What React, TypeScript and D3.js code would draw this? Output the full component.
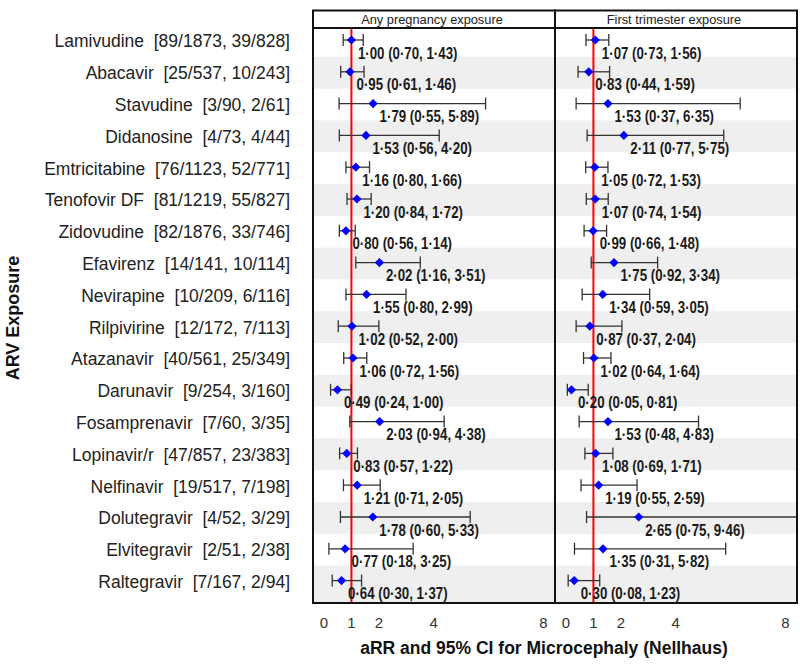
import React from "react";
import * as d3 from "d3";

const drugs = ["Lamivudine", "Abacavir", "Stavudine", "Didanosine", "Emtricitabine", "Tenofovir DF", "Zidovudine", "Efavirenz", "Nevirapine", "Rilpivirine", "Atazanavir", "Darunavir", "Fosamprenavir", "Lopinavir/r", "Nelfinavir", "Dolutegravir", "Elvitegravir", "Raltegravir"];
const counts = ["[89/1873, 39/828]", "[25/537, 10/243]", "[3/90, 2/61]", "[4/73, 4/44]", "[76/1123, 52/771]", "[81/1219, 55/827]", "[82/1876, 33/746]", "[14/141, 10/114]", "[10/209, 6/116]", "[12/172, 7/113]", "[40/561, 25/349]", "[9/254, 3/160]", "[7/60, 3/35]", "[47/857, 23/383]", "[19/517, 7/198]", "[4/52, 3/29]", "[2/51, 2/38]", "[7/167, 2/94]"];

const anyRR = [1.00, 0.95, 1.79, 1.53, 1.16, 1.20, 0.80, 2.02, 1.55, 1.02, 1.06, 0.49, 2.03, 0.83, 1.21, 1.78, 0.77, 0.64];
const anyLo = [0.70, 0.61, 0.55, 0.56, 0.80, 0.84, 0.56, 1.16, 0.80, 0.52, 0.72, 0.24, 0.94, 0.57, 0.71, 0.60, 0.18, 0.30];
const anyHi = [1.43, 1.46, 5.89, 4.20, 1.66, 1.72, 1.14, 3.51, 2.99, 2.00, 1.56, 1.00, 4.38, 1.22, 2.05, 5.33, 3.25, 1.37];

const firstRR = [1.07, 0.83, 1.53, 2.11, 1.05, 1.07, 0.99, 1.75, 1.34, 0.87, 1.02, 0.20, 1.53, 1.08, 1.19, 2.65, 1.35, 0.30];
const firstLo = [0.73, 0.44, 0.37, 0.77, 0.72, 0.74, 0.66, 0.92, 0.59, 0.37, 0.64, 0.05, 0.48, 0.69, 0.55, 0.75, 0.31, 0.08];
const firstHi = [1.56, 1.59, 6.35, 5.75, 1.53, 1.54, 1.48, 3.34, 3.05, 2.04, 1.64, 0.81, 4.83, 1.71, 2.59, 9.46, 5.82, 1.23];

const panelTitles = ["Any pregnancy exposure", "First trimester exposure"];
const xTicks = [0, 1, 2, 4, 8];

const fmt = (v: number) => v.toFixed(2).replace(".", "\u00b7");

export default function App() {
  const W = 800, H = 665;
  const stripTop = 10.5, stripBot = 28, panelBot = 603;
  const panelEdges = [313, 555, 797];
  const yScale = d3.scaleLinear().domain([0, drugs.length - 1]).range([40, 580.6]);
  const series = [
    { rr: anyRR, lo: anyLo, hi: anyHi },
    { rr: firstRR, lo: firstLo, hi: firstHi },
  ];
  const labelFont = "'Liberation Sans', Arial, sans-serif";

  return (
    <svg width={W} height={H} style={{ position: "absolute", left: 0, top: 0, background: "#fff" }} fontFamily={labelFont}>
      <defs>
        {series.map((_, p) => (
          <clipPath id={`clip${p}`} key={p}>
            <rect x={panelEdges[p]} y={stripBot} width={panelEdges[p + 1] - panelEdges[p]} height={panelBot - stripBot} />
          </clipPath>
        ))}
      </defs>
      {drugs.map((d, i) => (
        <text key={d} x={290} y={yScale(i) + 1} dy="0.36em" textAnchor="end" fontSize={17.5} fill="#222" style={{ whiteSpace: "pre" }}>
          {d + "  " + counts[i]}
        </text>
      ))}
      <text transform={`translate(19,318) rotate(-90)`} textAnchor="middle" fontSize={18} fontWeight="bold" fill="#111">ARV Exposure</text>

      {series.map((s, p) => {
        const x0 = panelEdges[p], x1 = panelEdges[p + 1];
        const x = d3.scaleLinear().domain([-0.4, 8.42]).range([x0, x1]);
        return (
          <g key={p}>
            <g clipPath={`url(#clip${p})`}>
              <rect x={x0} y={stripBot} width={x1 - x0} height={panelBot - stripBot} fill="#fff" />
              {drugs.map((d, i) =>
                i % 2 === 1 ? (
                  <rect key={d} x={x0} y={yScale(i) - 15} width={x1 - x0}
                    height={i === drugs.length - 1 ? panelBot - (yScale(i) - 15) : 31.8} fill="#efefef" />
                ) : null
              )}
              <line x1={x(1)} x2={x(1)} y1={stripBot} y2={panelBot} stroke="#ff0000" strokeWidth={2} />
              {drugs.map((d, i) => {
                const y = yScale(i);
                const lx = x(s.lo[i]), hx = x(s.hi[i]), px = x(s.rr[i]);
                return (
                  <g key={d}>
                    <line x1={lx} x2={hx} y1={y} y2={y} stroke="#333" strokeWidth={1.3} />
                    <line x1={lx} x2={lx} y1={y - 6} y2={y + 6} stroke="#333" strokeWidth={1.3} />
                    <line x1={hx} x2={hx} y1={y - 6} y2={y + 6} stroke="#333" strokeWidth={1.3} />
                    <path d={`M${px},${y - 4.6}L${px + 4.6},${y}L${px},${y + 4.6}L${px - 4.6},${y}Z`} fill="#0000ff" />
                    <g transform={`translate(${px + 6.5},${y + 18.5}) scale(0.83,1)`}>
                      <text x={0} y={0} fontSize={16} fontWeight="bold" fill="#1a1a1a">
                        {`${fmt(s.rr[i])} (${fmt(s.lo[i])}, ${fmt(s.hi[i])})`}
                      </text>
                    </g>
                  </g>
                );
              })}
            </g>
            <rect x={x0} y={stripTop} width={x1 - x0} height={stripBot - stripTop} fill="#fff" stroke="#111" strokeWidth={2} />
            <text x={(x0 + x1) / 2 - 2} y={stripTop + 13.3} textAnchor="middle" fontSize={12.8} fill="#222">{panelTitles[p]}</text>
            <rect x={x0} y={stripBot} width={x1 - x0} height={panelBot - stripBot} fill="none" stroke="#111" strokeWidth={2} />
            {xTicks.map((t) => (
              <text key={t} x={x(t)} y={627.5} textAnchor="middle" fontSize={15} fill="#333">{t}</text>
            ))}
          </g>
        );
      })}
      <text x={544} y={654} textAnchor="middle" fontSize={17.5} fontWeight="bold" fill="#111">aRR and 95% CI for Microcephaly (Nellhaus)</text>
    </svg>
  );
}
